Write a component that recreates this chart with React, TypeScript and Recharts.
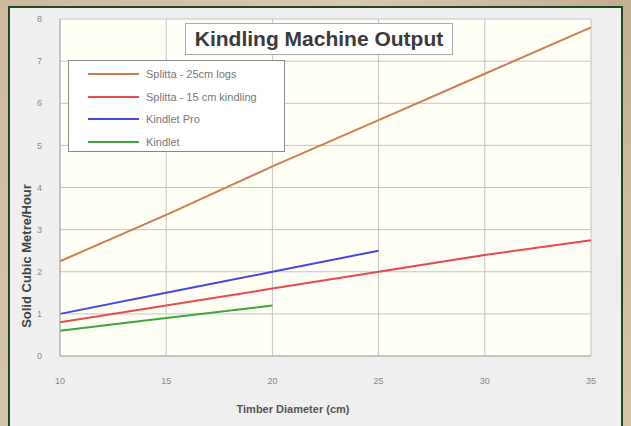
import { LineChart, Line, XAxis, YAxis, CartesianGrid } from 'recharts';

const diameters = [10, 15, 20, 25, 30, 35];
const splitta25 = [2.25, 3.35, 4.5, 5.6, 6.7, 7.8];
const splitta15 = [0.8, 1.2, 1.6, 2.0, 2.4, 2.75];
const kindletPro = [1.0, 1.5, 2.0, 2.5, null, null];
const kindlet = [0.6, 0.9, 1.2, null, null, null];
const yTicks = [0, 1, 2, 3, 4, 5, 6, 7, 8];

const SERIES = [
    { key: 'splitta25', name: 'Splitta - 25cm logs', color: '#cc7d52' },
    { key: 'splitta15', name: 'Splitta - 15 cm kindling', color: '#e84a4c' },
    { key: 'kindletPro', name: 'Kindlet Pro', color: '#4646e6' },
    { key: 'kindlet', name: 'Kindlet', color: '#3aa63c' },
];

const data = diameters.map((d, i) => ({
    d,
    splitta25: splitta25[i],
    splitta15: splitta15[i],
    kindletPro: kindletPro[i],
    kindlet: kindlet[i],
}));

const FONT = 'Arial, "Liberation Sans", sans-serif';

// legend box drawn as plain html so it can sit over the plot without taking space
const LegendBox = () => (
    <div style={{
        position: 'absolute', left: 68, top: 60, width: 217, height: 92,
        border: '1px solid #888', background: '#fff',
        fontFamily: FONT, fontSize: 11, color: '#777', boxSizing: 'border-box', paddingTop: 2,
    }}>
        {SERIES.map(s => (
            <div key={s.key} style={{ display: 'flex', alignItems: 'center', height: 22.5 }}>
                <div style={{ width: 51, height: 2, background: s.color, marginLeft: 19, marginRight: 7 }} />
                <span>{s.name}</span>
            </div>
        ))}
    </div>
);

const App = () => {
    return (
        <div style={{
            position: 'fixed', left: 0, top: 0, width: 631, height: 426, overflow: 'hidden',
            background: 'linear-gradient(120deg, #cdb89c 0%, #d9c8b0 40%, #c4ae92 70%, #d6c4aa 100%)',
        }}>
            {/* grey chart panel */}
            <div style={{
                position: 'absolute', left: 8, top: 6, width: 615, height: 430,
                background: '#efefef', border: '2px solid #1e4a1e', boxSizing: 'border-box',
            }} />
            <div style={{ position: 'absolute', left: 0, top: 0 }}>
                <LineChart width={631} height={426} data={data} margin={{ top: 19, right: 40, bottom: 40, left: 20 }}>
                    <CartesianGrid stroke="#c4c4c4" fill="#fffff6" strokeWidth={1} />
                    <XAxis
                        dataKey="d" type="number" domain={[10, 35]} ticks={diameters}
                        height={30} stroke="#aaa" tickLine={false}
                        tick={{ fill: '#888', fontSize: 9, fontFamily: FONT }} dy={14}
                        label={{
                            content: () => (
                                <text x={293} y={413} textAnchor="middle" fontFamily={FONT} fontSize={11} fontWeight="bold" fill="#555">
                                    Timber Diameter (cm)
                                </text>
                            ),
                        }}
                    />
                    <YAxis
                        type="number" domain={[0, 8]} ticks={yTicks} width={40}
                        stroke="#aaa" tickLine={false}
                        tick={{ fill: '#888', fontSize: 9, fontFamily: FONT }} dx={-10}
                        label={{
                            content: () => (
                                <text x={26} y={256} transform="rotate(-90 26 256)" textAnchor="middle" dominantBaseline="central" fontFamily={FONT} fontSize={13} fontWeight="bold" fill="#444">
                                    Solid Cubic Metre/Hour
                                </text>
                            ),
                        }}
                    />
                    {SERIES.map(s => (
                        <Line
                            key={s.key} dataKey={s.key} name={s.name} stroke={s.color} strokeWidth={2}
                            dot={false} isAnimationActive={false} connectNulls={false}
                        />
                    ))}
                </LineChart>
            </div>
            <LegendBox />
            {/* title box */}
            <div style={{
                position: 'absolute', left: 185, top: 23, width: 268, height: 32, boxSizing: 'border-box',
                border: '1px solid #aaa', background: '#fff', fontFamily: FONT, fontWeight: 'bold',
                fontSize: 21, color: '#3a3a3a', display: 'flex', alignItems: 'center', justifyContent: 'center',
            }}>
                Kindling Machine Output
            </div>
        </div>
    );
};

export default App;
